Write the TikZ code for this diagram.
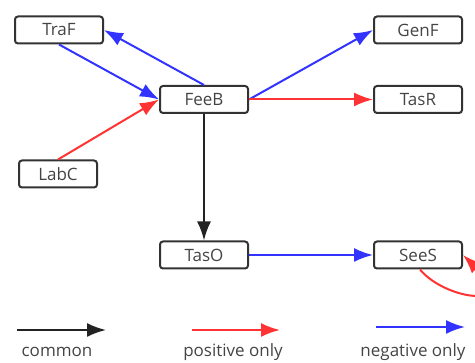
\documentclass[tikz,border=0pt]{standalone}
\usepackage{fontspec}
\setmainfont{Open Sans}
\usetikzlibrary{arrows.meta}

\definecolor{posred}{RGB}{255,51,51}
\definecolor{negblue}{RGB}{51,51,255}
\definecolor{comblack}{RGB}{34,34,34}
\definecolor{boxline}{RGB}{51,51,51}
\definecolor{txtgray}{RGB}{68,68,68}

\begin{document}
\begin{tikzpicture}[
    x=1pt, y=-1pt,
    font=\fontsize{17}{19}\selectfont,
    gene/.style={draw=boxline, rounded corners=3pt, line width=2pt,
        minimum width=88pt, minimum height=27pt, inner sep=0pt, text=txtgray},
    link/.style={line width=2pt, -{Latex[length=19pt, width=14pt]}, draw=#1},
    link/.default=comblack,
    legend/.style={text=txtgray}
]

    \useasboundingbox (0,0) rectangle (475,363);
    \clip (0,0) rectangle (475,363);

    % Genes
    \node[gene] (traf) at (59,30)    {TraF};
    \node[gene] (genf) at (418,30)   {GenF};
    \node[gene] (feeb) at (204,99.5) {FeeB};
    \node[gene] (tasr) at (418,99.5) {TasR};
    \node[gene, minimum width=78pt] (labc) at (58,174) {LabC};
    \node[gene] (taso) at (204,255)  {TasO};
    \node[gene] (sees) at (418,255)  {SeeS};

    % Interactions
    \draw[link=negblue] (feeb.north) -- (traf.east);
    \draw[link=negblue] (traf.south) -- (feeb.west);
    \draw[link=posred]  (labc.north) -- (feeb.west);
    \draw[link=negblue] (feeb.east) -- (genf.west);
    \draw[link=posred]  (feeb.east) -- (tasr.west);
    \draw[link]         (feeb.south) -- (taso.north);
    \draw[link=negblue] (taso.east) -- (sees.west);
    \draw[link=posred]  ([xshift=2pt]sees.south) .. controls (445,300) and (520,310) .. (sees.east);

    % Legend
    \coordinate (cs) at (17,330);   \coordinate (ce) at (106,330);
    \coordinate (ps) at (192,330);  \coordinate (pe) at (280,330);
    \coordinate (ns) at (376,327);  \coordinate (ne) at (465,327);
    \draw[link] (cs) -- (ce);
    \draw[link=posred] (ps) -- (pe);
    \draw[link=negblue] (ns) -- (ne);
    \node[legend] (lcom) at (57,352)  {common};
    \node[legend] (lpos) at (233,352) {positive only};
    \node[legend] (lneg) at (413,352) {negative only};

\end{tikzpicture}
\end{document}
